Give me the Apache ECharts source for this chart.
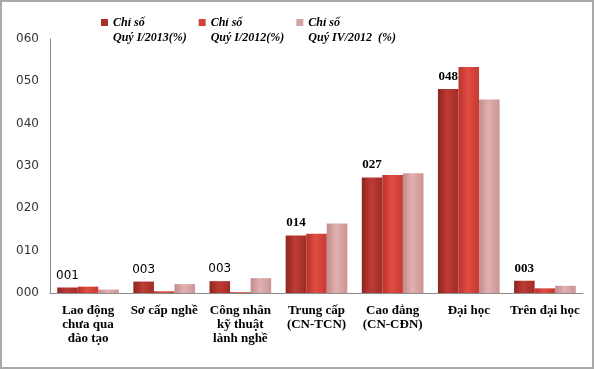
<!DOCTYPE html>
<html><head><meta charset="utf-8">
<script src="https://cdn.jsdelivr.net/npm/echarts@6/dist/echarts.min.js"></script>
<style>html,body{margin:0;padding:0;background:#fff}#c{width:594px;height:369px}</style>
</head><body><div id="c"></div>
<script>
const categories = ["Lao động\nchưa qua\nđào tạo","Sơ cấp nghề","Công nhân\nkỹ thuật\nlành nghề","Trung cấp\n(CN-TCN)","Cao đẳng\n(CN-CĐN)","Đại học","Trên đại học"];
const seriesNames = ["Chỉ số\nQuý I/2013(%)","Chỉ số\nQuý I/2012(%)","Chỉ số\nQuý IV/2012  (%)"];
const q1_2013 = [1.3, 2.7, 2.8, 13.6, 27.3, 48.2, 2.9];
const q1_2012 = [1.5, 0.4, 0.2, 14.0, 27.9, 53.4, 1.1];
const q4_2012 = [0.8, 2.1, 3.5, 16.4, 28.3, 45.7, 1.7];
const yTicks = [0, 10, 20, 30, 40, 50, 60];

const pad3 = v => String(Math.round(v)).padStart(3, '0');
function grad(c1, c2, c3) {
  return new echarts.graphic.LinearGradient(0, 0, 1, 0, [
    {offset: 0, color: c1}, {offset: 0.45, color: c2}, {offset: 1, color: c3}
  ]);
}
const colors = [
  grad('#8e2420', '#bd3c35', '#a22c27'),
  grad('#b8332c', '#e04c42', '#c63a32'),
  grad('#c28a8a', '#e2b0b0', '#c99595')
];
const legendColors = ['#a8302b', '#d0423a', '#d3a2a2'];
const serif = '"Liberation Serif", "Times New Roman", serif';
const sans = '"DejaVu Sans", Tahoma, sans-serif';

const labeled = q1_2013.map((v, i) => ({
  value: v,
  label: {
    show: true, position: 'top', distance: 6,
    formatter: () => pad3(v),
    color: '#000',
    fontFamily: i < 3 ? sans : serif,
    fontWeight: i < 3 ? 'normal' : 'bold',
    fontSize: i < 3 ? 12 : 13
  }
}));

const chart = echarts.init(document.getElementById('c'), null, {renderer: 'canvas'});
chart.setOption({
  animation: false,
  backgroundColor: '#fff',
  graphic: [{
    type: 'rect', silent: true, z: 100,
    shape: {x: 1, y: 1, width: 592, height: 367},
    style: {fill: 'none', stroke: '#a9a9a9', lineWidth: 2}
  }],
  legend: {
    left: 96, top: 10, itemGap: 12,
    itemWidth: 7, itemHeight: 30,
    icon: 'path://M0,0L7,0M0,4L7,4L7,11L0,11ZM0,30L7,30',
    data: seriesNames.map((n, i) => ({name: n, itemStyle: {color: legendColors[i], borderWidth: 0}})),
    textStyle: {
      fontFamily: serif, fontStyle: 'italic', fontWeight: 'bold', fontSize: 12,
      color: '#000', lineHeight: 15
    }
  },
  grid: {left: 50, right: 11, top: 39, bottom: 76},
  xAxis: {
    type: 'category', data: categories,
    axisLine: {lineStyle: {color: '#8c8c8c', width: 1}},
    axisTick: {show: false},
    axisLabel: {
      interval: 0, color: '#000', fontFamily: serif, fontWeight: 'bold',
      fontSize: 13, lineHeight: 14, margin: 11
    }
  },
  yAxis: {
    type: 'value', min: yTicks[0], max: yTicks[yTicks.length - 1], interval: 10,
    axisLine: {show: true, lineStyle: {color: '#8c8c8c', width: 1}},
    axisTick: {show: false},
    splitLine: {show: false},
    axisLabel: {
      color: '#333', fontFamily: sans, fontSize: 12, margin: 11,
      formatter: v => pad3(v)
    }
  },
  series: [
    {name: seriesNames[0], type: 'bar', data: labeled, barGap: '0%', barCategoryGap: '19%',
     itemStyle: {color: colors[0]}},
    {name: seriesNames[1], type: 'bar', data: q1_2012, barGap: '0%', barCategoryGap: '19%',
     itemStyle: {color: colors[1]}},
    {name: seriesNames[2], type: 'bar', data: q4_2012, barGap: '0%', barCategoryGap: '19%',
     itemStyle: {color: colors[2]}}
  ]
});
</script></body></html>
